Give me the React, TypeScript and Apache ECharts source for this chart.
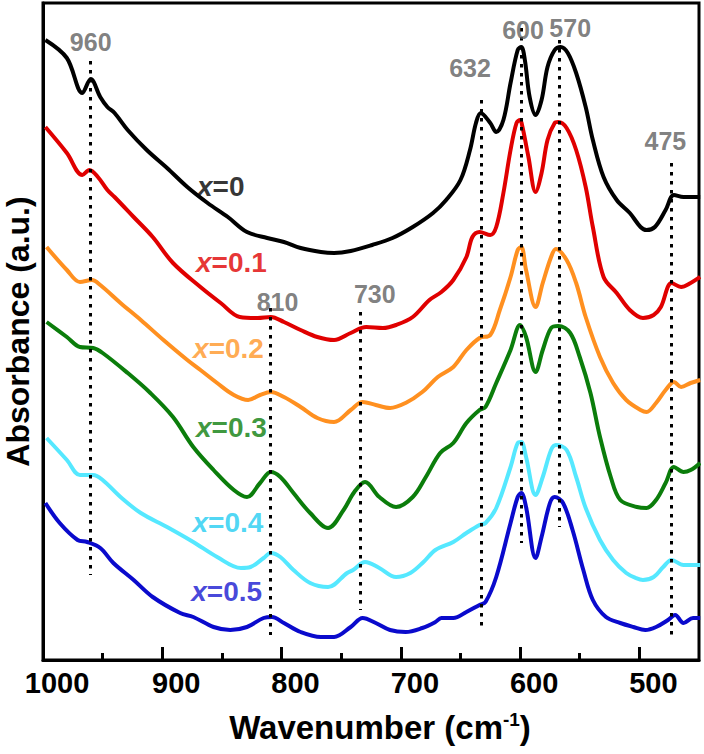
import React, { useEffect, useRef } from 'react';
import * as echarts from 'echarts';

const FONT = '"Liberation Sans", Arial, Helvetica, sans-serif';

// x = 0
const wn0 = [998, 980, 967, 960, 952, 946, 940, 929, 913, 896, 879, 862, 845, 829, 812, 798, 784, 767, 756, 742, 724, 707, 690, 673, 662, 650, 642, 637, 633, 625, 620, 614, 608, 602, 599, 596, 592, 587, 582, 577, 571, 566, 560, 553, 545, 539, 530, 519, 508, 499, 494, 487, 478, 471, 463, 449];
const ab0 = [620, 602, 567, 581, 563, 553, 547, 530, 510, 492, 473, 457, 443, 428, 422, 418, 412, 408, 407, 409, 415, 422, 433, 447, 460, 480, 510, 537, 547, 537, 528, 540, 577, 610, 613, 600, 563, 545, 560, 593, 610, 613, 607, 587, 553, 520, 483, 460, 447, 433, 430, 433, 450, 465, 463, 463];
// x = 0.1
const wn1 = [998, 980, 967, 961, 954, 946, 940, 924, 908, 891, 868, 851, 835, 820, 809, 798, 784, 770, 756, 742, 729, 715, 704, 690, 676, 666, 656, 645, 640, 634, 625, 620, 614, 608, 603, 600, 598, 593, 587, 582, 577, 571, 568, 561, 553, 545, 539, 530, 519, 508, 497, 488, 482, 473, 465, 457, 449];
const ab1 = [533, 507, 485, 490, 483, 470, 463, 443, 423, 397, 373, 357, 343, 342, 343, 338, 330, 323, 320, 327, 333, 332, 335, 343, 360, 368, 380, 403, 423, 428, 425, 433, 467, 510, 537, 540, 533, 503, 468, 487, 520, 537, 538, 532, 510, 473, 433, 383, 367, 350, 342, 345, 353, 377, 373, 377, 383];
// x = 0.2
const wn2 = [997, 980, 969, 959, 952, 935, 918, 899, 879, 868, 854, 840, 828, 818, 809, 798, 784, 770, 756, 742, 732, 721, 709, 696, 682, 669, 656, 645, 634, 625, 617, 608, 602, 599, 595, 587, 581, 574, 570, 561, 553, 545, 533, 522, 511, 499, 494, 486, 478, 471, 465, 457, 449];
const ab2 = [413, 390, 378, 380, 375, 357, 340, 320, 300, 290, 277, 265, 260, 265, 268, 263, 253, 242, 238, 250, 258, 255, 252, 257, 268, 283, 293, 310, 322, 325, 350, 383, 410, 413, 390, 353, 377, 403, 411, 400, 377, 343, 303, 277, 260, 250, 248, 257, 270, 278, 273, 277, 280];
// x = 0.3
const wn3 = [997, 980, 969, 958, 950, 929, 910, 891, 874, 857, 840, 829, 818, 809, 801, 790, 776, 761, 748, 739, 730, 718, 704, 690, 679, 667, 656, 645, 634, 629, 620, 608, 600, 595, 587, 581, 574, 568, 558, 550, 541, 533, 524, 516, 502, 494, 486, 478, 471, 463, 457, 449];
const ab3 = [338, 323, 313, 312, 307, 287, 267, 243, 213, 190, 170, 163, 177, 188, 183, 167, 147, 132, 150, 168, 178, 163, 153, 163, 183, 207, 217, 237, 250, 253, 277, 310, 335, 323, 288, 310, 332, 334, 327, 303, 267, 223, 183, 160, 153, 152, 160, 177, 193, 188, 190, 197];
// x = 0.4
const wn4 = [997, 980, 969, 958, 950, 935, 918, 896, 874, 854, 834, 826, 815, 809, 801, 790, 776, 761, 745, 740, 730, 718, 704, 692, 681, 671, 656, 645, 634, 629, 620, 608, 602, 599, 595, 587, 581, 574, 570, 561, 553, 545, 533, 522, 511, 503, 497, 488, 480, 473, 463, 449];
const ab4 = [222, 200, 185, 185, 180, 163, 147, 133, 118, 103, 92, 93, 102, 107, 103, 90, 77, 73, 87, 90, 98, 92, 83, 87, 98, 110, 118, 127, 135, 137, 152, 193, 217, 218, 203, 165, 183, 210, 215, 210, 183, 152, 120, 100, 87, 82, 80, 83, 93, 100, 95, 95];
// x = 0.5
const wn5 = [998, 986, 971, 963, 952, 941, 924, 908, 885, 874, 857, 843, 829, 815, 808, 798, 784, 767, 756, 742, 732, 721, 709, 696, 682, 671, 666, 656, 645, 634, 629, 620, 608, 602, 599, 595, 587, 582, 575, 571, 564, 556, 547, 539, 528, 516, 505, 495, 486, 476, 470, 463, 455, 449];
const ab5 = [157, 137, 120, 118, 112, 97, 80, 63, 47, 43, 33, 30, 33, 42, 43, 37, 28, 23, 23, 33, 42, 37, 30, 28, 32, 38, 42, 42, 48, 55, 58, 83, 137, 163, 167, 153, 102, 123, 157, 163, 157, 130, 90, 60, 43, 37, 33, 30, 33, 40, 45, 37, 42, 42];

const seriesNames = ['x=0', 'x=0.1', 'x=0.2', 'x=0.3', 'x=0.4', 'x=0.5'];
const lineColors = ['#000000', '#e00000', '#ff9020', '#0b7d0b', '#55e8ff', '#0a0acc'];
const labelColors = ['#000000', '#e00000', '#ff9526', '#0b7d0b', '#22ccf2', '#1717d0'];
const curveLabelText = ['=0', '=0.1', '=0.2', '=0.3', '=0.4', '=0.5'];
const curveLabelW = [851, 842, 844.5, 842, 845, 846];
const curveLabelV = [474, 398, 312, 233, 138, 69];

const peakText = ['960', '810', '730', '632', '600', '570', '475'];
const peakLabelW = [960, 803.4, 721.8, 642, 597.5, 558, 478.2];
const peakLabelV = [618, 358, 366, 592, 630, 632, 519];
const peakLineW = [960, 809.2, 733.6, 632.8, 599.2, 567.2, 473.1];
const peakLineTop = [599, 352, 348, 560, 632, 620, 497];
const peakLineBottom = [85, 25, 50, 32, 117, 133, 25];

const majorTicks = [500, 600, 700, 800, 900, 1000];
const minorTicks = [550, 650, 750, 850, 950];

export default function App() {
  const ref = useRef<HTMLDivElement>(null);
  useEffect(() => {
    const chart = echarts.init(ref.current!, null, { renderer: 'svg' });
    const wns = [wn0, wn1, wn2, wn3, wn4, wn5];
    const abs = [ab0, ab1, ab2, ab3, ab4, ab5];
    const lineSeries: any[] = wns.map((wn, i) => ({
      name: seriesNames[i],
      type: 'line',
      xAxisIndex: 0,
      yAxisIndex: 0,
      data: wn.map((w, j) => [w, abs[i][j]]),
      showSymbol: false,
      smooth: 0.35,
      lineStyle: { color: lineColors[i], width: 4 },
      itemStyle: { color: lineColors[i] },
      z: 3,
      silent: true,
    }));
    const markLineSeries = {
      type: 'line',
      data: [],
      silent: true,
      markLine: {
        symbol: ['none', 'none'],
        silent: true,
        label: { show: false },
        lineStyle: { color: '#000', width: 3, type: [3.5, 5.5] },
        data: peakLineW.map((w, i) => [
          { coord: [w, peakLineTop[i]] },
          { coord: [w, peakLineBottom[i]] },
        ]),
      },
      z: 2,
    };
    const peakLabelSeries = {
      type: 'scatter',
      symbolSize: 0,
      silent: true,
      z: 5,
      data: peakText.map((t, i) => ({
        value: [peakLabelW[i], peakLabelV[i]],
        label: {
          show: true,
          position: 'inside',
          formatter: t,
          color: '#5f5f5f',
          fontSize: 25,
          fontWeight: 'bold',
          fontFamily: FONT,
        },
      })),
    };
    const curveLabelSeries = {
      type: 'scatter',
      symbolSize: 0,
      silent: true,
      z: 5,
      data: curveLabelText.map((t, i) => ({
        value: [curveLabelW[i], curveLabelV[i]],
        label: {
          show: true,
          position: 'inside',
          formatter: '{i|x}{n|' + t + '}',
          rich: {
            i: { fontSize: 28, fontWeight: 'bold', fontStyle: 'italic', color: labelColors[i], fontFamily: FONT },
            n: { fontSize: 28, fontWeight: 'bold', color: labelColors[i], fontFamily: FONT },
          },
        },
      })),
    };
    chart.setOption({
      animation: false,
      backgroundColor: '#ffffff',
      grid: {
        left: 43,
        right: 5,
        top: 3,
        bottom: 94,
        show: true,
        borderColor: '#000',
        borderWidth: 3,
        containLabel: false,
        outerBoundsMode: 'none',
      },
      xAxis: [
        {
          type: 'value',
          min: 450,
          max: 1000,
          inverse: true,
          position: 'bottom',
          axisLine: { show: true, lineStyle: { color: '#000', width: 3 } },
          axisTick: { show: true, inside: true, length: 13, lineStyle: { color: '#000', width: 3 }, customValues: majorTicks },
          axisLabel: {
            customValues: majorTicks,
            formatter: (v: number) => String(v),
            fontSize: 29,
            fontWeight: 'bold',
            color: '#000',
            fontFamily: FONT,
            margin: 8,
            padding: [0, 0, 0, 28],
          },
          splitLine: { show: false },
          name: 'Wavenumber (cm{sup|-1})',
          nameLocation: 'middle',
          nameGap: 50,
          nameTextStyle: {
            fontSize: 33,
            fontWeight: 'bold',
            color: '#000',
            fontFamily: FONT,
            padding: [0, 0, 0, 18],
            rich: {
              sup: { fontSize: 19, fontWeight: 'bold', color: '#000', fontFamily: FONT, verticalAlign: 'top', padding: [0, 0, 16, 0] },
            },
          },
        },
        {
          type: 'value',
          min: 450,
          max: 1000,
          inverse: true,
          position: 'bottom',
          axisLine: { show: false },
          axisTick: { show: true, inside: true, length: 7, lineStyle: { color: '#000', width: 3 }, customValues: minorTicks },
          axisLabel: { show: false },
          splitLine: { show: false },
        },
      ],
      yAxis: {
        type: 'value',
        min: 0,
        max: 657,
        axisLine: { show: true, lineStyle: { color: '#000', width: 3 } },
        axisTick: { show: false },
        axisLabel: { show: false },
        splitLine: { show: false },
        name: 'Absorbance (a.u.)',
        nameLocation: 'middle',
        nameRotate: 90,
        nameGap: 9,
        nameTextStyle: { fontSize: 32, fontWeight: 'bold', color: '#000', fontFamily: FONT, lineHeight: 32 },
      },
      series: [markLineSeries, ...lineSeries, peakLabelSeries, curveLabelSeries],
    });
    return () => chart.dispose();
  }, []);
  return <div ref={ref} style={{ position: 'fixed', left: 0, top: 0, width: 704, height: 754 }} />;
}
